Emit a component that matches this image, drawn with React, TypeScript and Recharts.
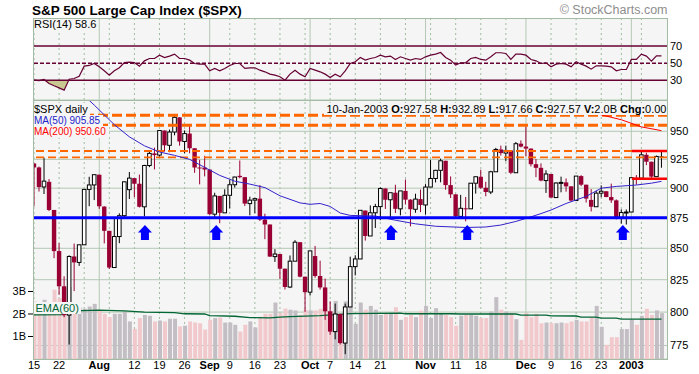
import React from "react";
import {
  Area,
  Bar,
  CartesianGrid,
  Cell,
  ComposedChart,
  Line,
  ReferenceLine,
  Scatter,
  XAxis,
  YAxis,
} from "recharts";

// daily $SPX, 15-Jul-2002 .. 10-Jan-2003 (one entry per trading day)
const priorClose = 921.39;
const opens = [
  921.39, 917.93, 901.05, 905.45, 881.56, 847.76, 819.85, 797.71, 843.42, 838.68,
  852.84, 898.96, 902.78, 911.62, 884.4, 864.24, 834.6, 859.57, 876.77, 898.73,
  908.64, 903.8, 884.21, 919.62, 930.25, 928.77, 950.7, 937.43, 949.36, 962.7,
  940.86, 947.95, 934.82, 917.87, 917.8, 916.07, 878.02, 893.4, 879.15, 893.92,
  902.96, 910.63, 909.45, 886.91, 889.81, 891.1, 873.52, 869.46, 843.32, 845.39,
  833.7, 819.27, 839.66, 854.95, 827.37, 815.28, 843.77, 827.91, 818.95, 800.58,
  785.28, 798.55, 776.76, 803.92, 835.32, 841.44, 881.04, 860.02, 879.2, 884.39,
  899.72, 890.16, 896.14, 882.5, 897.65, 890.23, 882.15, 890.71, 885.76, 900.96,
  908.35, 915.39, 923.76, 902.65, 894.74, 876.19, 882.95, 882.53, 904.27, 909.83,
  900.36, 896.74, 914.15, 933.76, 930.55, 932.87, 913.31, 938.87, 936.31, 934.53,
  920.75, 917.58, 906.55, 912.23, 892.0, 904.45, 904.96, 901.58, 889.48, 910.4,
  902.99, 890.02, 884.25, 895.74, 897.38, 892.47, 889.66, 875.4, 879.39, 879.82,
  909.03, 908.59, 929.01, 922.93, 909.93, 927.58,
];
const highs = [
  921.39, 918.65, 926.52, 907.8, 881.56, 854.13, 827.69, 844.32, 853.83, 852.85,
  898.96, 909.81, 911.64, 911.62, 884.72, 864.24, 874.44, 878.74, 905.84, 913.95,
  908.64, 911.71, 920.21, 933.29, 935.38, 951.17, 950.7, 951.59, 965.0, 962.7,
  950.8, 955.82, 934.82, 924.59, 928.15, 916.07, 896.1, 893.4, 899.07, 907.34,
  909.89, 924.02, 909.45, 892.75, 891.84, 902.68, 878.45, 869.46, 849.32, 845.39,
  833.7, 844.22, 856.6, 854.95, 827.37, 847.93, 851.93, 840.02, 825.9, 808.21,
  806.51, 798.55, 806.51, 843.27, 844.39, 881.27, 881.04, 885.35, 886.68, 900.69,
  899.72, 896.14, 902.94, 897.71, 907.44, 890.64, 895.28, 898.83, 903.42, 924.58,
  915.83, 925.66, 923.76, 910.11, 894.74, 894.3, 892.51, 904.27, 910.21, 915.91,
  905.45, 915.01, 935.13, 937.15, 937.15, 932.87, 940.41, 941.82, 954.28, 934.53,
  925.25, 921.49, 915.48, 912.23, 904.95, 909.94, 908.37, 901.58, 910.42, 911.22,
  902.99, 899.19, 897.79, 902.43, 897.38, 903.89, 890.46, 882.1, 881.93, 909.03,
  911.25, 931.77, 930.81, 922.93, 928.31, 932.89,
];
const lows = [
  884.6, 897.13, 895.03, 880.6, 842.07, 813.26, 796.13, 775.68, 816.11, 835.92,
  852.84, 884.7, 889.88, 882.48, 853.95, 833.44, 834.6, 854.15, 875.17, 890.77,
  892.38, 883.62, 876.2, 918.17, 916.21, 927.21, 931.86, 931.32, 946.43, 937.17,
  930.42, 930.36, 913.21, 903.33, 910.17, 877.51, 875.73, 870.5, 879.15, 882.92,
  900.5, 908.47, 884.84, 877.05, 878.91, 872.38, 857.39, 843.09, 839.09, 825.76,
  817.38, 818.46, 839.66, 826.84, 800.2, 812.82, 826.5, 817.25, 794.1, 782.96,
  779.51, 775.8, 768.63, 803.92, 828.37, 841.44, 856.28, 860.02, 866.58, 873.06,
  882.4, 873.82, 879.0, 877.03, 886.15, 867.91, 879.19, 879.75, 877.71, 900.96,
  904.91, 905.0, 898.68, 891.62, 874.63, 876.19, 872.05, 882.53, 895.35, 899.48,
  893.09, 894.93, 914.15, 928.41, 923.31, 912.1, 913.31, 935.58, 927.72, 918.73,
  909.51, 905.9, 895.96, 891.97, 892.0, 896.48, 897.0, 888.48, 889.48, 901.74,
  887.82, 880.32, 884.25, 892.26, 892.29, 887.48, 873.62, 870.23, 869.45, 879.82,
  903.07, 908.59, 919.93, 908.32, 909.93, 917.66,
];
const closes = [
  917.93, 900.94, 906.04, 881.56, 847.75, 819.85, 797.7, 843.43, 838.68, 852.84,
  898.96, 902.78, 911.62, 884.66, 864.24, 834.6, 859.57, 876.77, 905.46, 908.64,
  903.8, 884.21, 919.62, 930.25, 928.77, 950.7, 937.43, 949.36, 962.7, 940.86,
  947.95, 934.82, 917.87, 917.8, 916.07, 878.02, 893.4, 879.15, 893.92, 902.96,
  909.58, 909.45, 886.91, 889.81, 891.1, 873.52, 869.46, 843.32, 845.39, 833.7,
  819.29, 839.66, 854.95, 827.37, 815.28, 847.91, 827.91, 818.95, 800.58, 785.28,
  798.55, 776.76, 803.92, 835.32, 841.44, 881.27, 860.02, 879.2, 884.39, 899.72,
  890.16, 896.14, 882.5, 897.65, 890.23, 882.15, 890.71, 885.76, 900.96, 908.35,
  915.39, 923.76, 902.65, 894.74, 876.19, 882.95, 882.53, 904.27, 909.83, 900.36,
  896.74, 914.15, 933.76, 930.55, 932.87, 913.31, 938.87, 936.31, 934.53, 920.75,
  917.58, 906.55, 912.23, 892.0, 904.45, 904.96, 901.58, 889.48, 910.4, 902.99,
  891.12, 884.25, 895.76, 897.38, 892.47, 889.66, 875.4, 879.39, 879.82, 909.03,
  908.59, 929.01, 922.93, 909.93, 927.57, 927.57,
];
// volume in billions
const volumes = [
  2.56, 2.2, 2.63, 2.11, 3.08, 2.7, 3.15, 3.2, 2.1, 2.29,
  2.23, 2.33, 2.45, 2.16, 2.01, 1.86, 2.01, 2.01, 2.11, 1.67,
  1.34, 1.82, 1.96, 1.92, 1.67, 1.71, 1.67, 1.79, 1.79, 1.45,
  1.48, 1.67, 1.62, 1.59, 1.31, 1.74, 1.82, 1.84, 1.62, 1.62,
  1.52, 1.22, 1.52, 1.67, 1.4, 1.88, 2.01, 2.01, 2.51, 2.04,
  2.24, 2.19, 2.16, 1.96, 2.19, 2.16, 2.16, 2.23, 2.19, 2.15,
  2.58, 2.04, 2.56, 2.33, 1.56, 2.51, 2.19, 2.36, 2.19, 1.96,
  2.01, 2.04, 2.3, 1.74, 1.86, 1.96, 1.86, 2.15, 2.36, 1.82,
  2.26, 2.0, 1.96, 1.86, 1.48, 1.92, 1.96, 1.96, 1.92, 1.82,
  1.82, 2.11, 2.75, 2.19, 2.11, 2.04, 1.77, 0.85, 2.04, 1.86,
  2.01, 1.59, 1.62, 1.59, 1.59, 1.62, 1.59, 1.67, 1.74, 1.67,
  1.67, 1.86, 2.36, 1.43, 0.63, 0.97, 0.97, 1.33, 1.33, 1.74,
  1.52, 1.92, 2.23, 1.96, 2.16, 2.04,
];
const rsi14 = [
  30.2, 29.6, 31.0, 26.3, 23.6, 21.2, 18.5, 31.3, 32.1, 34.8,
  46.5, 47.3, 49.6, 45.7, 41.1, 36.0, 41.1, 44.6, 50.8, 51.2,
  50.8, 46.5, 52.7, 55.4, 55.4, 59.3, 56.6, 58.2, 60.5, 55.4,
  55.4, 53.5, 49.6, 48.8, 48.8, 41.1, 43.8, 41.1, 43.8, 47.3,
  49.6, 49.6, 43.8, 44.6, 44.6, 41.8, 39.9, 37.2, 36.0, 34.1,
  30.2, 37.2, 41.8, 37.2, 34.1, 43.8, 41.8, 39.9, 37.2, 33.3,
  37.2, 34.1, 41.1, 49.6, 51.6, 56.6, 53.5, 55.4, 56.6, 59.3,
  57.4, 58.2, 54.3, 57.4, 55.4, 53.5, 55.4, 54.3, 57.4, 59.3,
  60.5, 62.4, 56.6, 53.5, 47.7, 50.4, 50.4, 55.4, 56.6, 54.3,
  53.5, 57.4, 62.1, 62.1, 61.3, 54.3, 60.5, 60.5, 59.3, 54.3,
  52.7, 49.6, 50.4, 45.7, 48.8, 49.6, 48.8, 45.7, 51.6, 48.8,
  46.5, 43.0, 46.9, 46.9, 46.5, 45.7, 41.1, 42.6, 42.6, 54.3,
  54.3, 60.5, 58.2, 52.3, 58.6, 58.6,
];
// moving averages: [day index, value]
const ma50 = [
  [9, 987], [12, 974], [16, 956], [19, 945], [22, 937], [25, 931.5], [28, 928.5],
  [31, 925], [34, 918], [37, 911], [40, 906], [43, 903.5], [46, 900.5], [49, 893.5],
  [53, 887.5], [55, 886.3], [57, 887], [59, 884.5], [61, 879], [63, 877], [68, 876.5],
  [72, 873], [76, 870], [80, 868], [86, 867], [90, 867.4], [93, 869], [96, 872],
  [98, 874.5], [101, 878.5], [103, 881.5], [106, 887], [108, 890], [110, 893],
  [113, 900], [116, 901.5], [120, 902.7], [123, 904.3], [125, 905.85],
];
const ma200 = [[110, 968.5], [113, 965], [117, 960.5], [121, 954], [125, 950.6]];
const volEma60 = [
  [0, 1.96], [6, 1.97], [8, 2.14], [13, 2.17], [18, 2.14], [22, 2.08], [28, 2.06],
  [30, 2.01], [34, 2.0], [35, 1.93], [40, 1.9], [43, 1.84], [47, 1.83], [49, 1.86],
  [51, 1.88], [57, 1.93], [63, 2.02], [73, 2.04], [74, 2.01], [83, 2.01], [85, 2.0],
  [96, 2.0], [97, 1.95], [102, 1.95], [103, 1.92], [108, 1.91], [109, 1.86],
  [112, 1.86], [113, 1.82], [116, 1.82], [117, 1.77], [125, 1.77],
];

const tickIdx = [0, 5, 13, 20, 25, 30, 35, 39, 44, 49, 55, 59, 64, 69, 78, 84, 89, 98, 103, 108, 113, 119];
const tickText = ["15", "22", "Aug", "12", "19", "26", "Sep", "9", "16", "23", "Oct", "7", "14", "21", "Nov", "11", "18", "Dec", "9", "16", "23", "2003"];
const monthIdx = [13, 35, 55, 78, 98, 119];
const weekIdx = [0, 5, 10, 15, 20, 25, 30, 39, 44, 49, 54, 59, 64, 69, 74, 79, 84, 89, 94, 103, 108, 113, 117, 121];
const priceTicks = [775, 800, 825, 850, 875, 900, 925, 950];
const volTicks = [1, 2, 3];
const rsiTicks = [30, 50, 70];

// annotations
const supportLevel = 875;
const thickDashLevels = [964.5, 955.5];
const thinDashLevels = [932.4, 926.8];
const channelLevels = [932.4, 908.2];
const channelFrom = 119.1;
const arrowIdx = [22.1, 36.3, 71.1, 86.3, 117.3];
const arrowTip = 869;

const X_DOMAIN = [-0.2, 126.3];
const PANEL = "#f5f5f5";
const GRID = "#b4c8b4";
const FRAME = "#a3bba3";
const RED = "#990033";
const MAROON = "#660033";
const FONT = '"Liberation Sans", Arial, Helvetica, sans-serif';

const days = opens.map((o, i) => {
  const c = closes[i];
  const prev = i === 0 ? priorClose : closes[i - 1];
  return {
    i,
    o,
    h: highs[i],
    l: lows[i],
    c,
    range: [lows[i], highs[i]],
    vol: volumes[i],
    up: c >= prev,
    rsi: rsi14[i],
    rsiLow: [Math.min(rsi14[i], 30), 30],
  };
});
const ma50Rows = ma50.map(([i, v]) => ({ i, v }));
const ma200Rows = ma200.map(([i, v]) => ({ i, v }));
const emaRows = volEma60.map(([i, v]) => ({ i, v }));
const arrowRows = arrowIdx.map((i) => ({ i, p: arrowTip }));
const channelRows = channelLevels.map((v) => [
  { i: channelFrom, v },
  { i: X_DOMAIN[1], v },
]);

function Candle(props: any) {
  const { x, y, width, height, payload } = props;
  if (x == null || !payload) return null;
  const { o, h, l, c, up } = payload;
  const span = Math.log(h) - Math.log(l);
  const py = (v: number) => (span > 0 ? y + ((Math.log(h) - Math.log(v)) / span) * height : y);
  const cx = x + width / 2;
  const color = up ? "#000" : RED;
  const top = py(Math.max(o, c));
  const bh = Math.max(py(Math.min(o, c)) - top, 1);
  if (c < o) {
    return (
      <g>
        <line x1={cx} x2={cx} y1={y} y2={y + height} stroke={color} strokeWidth={1} />
        <rect x={cx - 2.2} y={top} width={4.4} height={bh} fill={color} />
      </g>
    );
  }
  return (
    <g>
      <line x1={cx} x2={cx} y1={y} y2={top} stroke={color} strokeWidth={1} />
      <line x1={cx} x2={cx} y1={top + bh} y2={y + height} stroke={color} strokeWidth={1} />
      <rect x={cx - 1.8} y={top} width={3.6} height={bh} fill="#fff" stroke={color} strokeWidth={1} />
    </g>
  );
}

function UpArrow(props: any) {
  const { cx, cy } = props;
  if (cx == null) return null;
  const d = `M${cx} ${cy} L${cx + 7} ${cy + 7.5} L${cx + 4} ${cy + 7.5} L${cx + 4} ${cy + 15} L${cx - 4} ${cy + 15} L${cx - 4} ${cy + 7.5} L${cx - 7} ${cy + 7.5} Z`;
  return <path d={d} fill="#0000ff" />;
}

function DayTick(props: any) {
  const { x, y, payload } = props;
  const label = tickText[tickIdx.indexOf(payload.value)];
  const bold = !/^\d{1,2}$/.test(label);
  return (
    <text x={x} y={y} dy="0.71em" textAnchor="middle" fontSize={11} fontWeight={bold ? 700 : 400} fill="#000">
      {label}
    </text>
  );
}

function vGrid(xId: string, yId: string) {
  return [
    ...weekIdx
      .filter((i) => !monthIdx.includes(i))
      .map((i) => (
        <ReferenceLine key={`w${i}`} x={i} xAxisId={xId} yAxisId={yId} stroke="#9fbc9f" strokeDasharray="2 3" zIndex={-50} />
      )),
    ...monthIdx.map((i) => (
      <ReferenceLine key={`m${i}`} x={i} xAxisId={xId} yAxisId={yId} stroke={GRID} zIndex={-50} />
    )),
  ];
}

const abs = (s: React.CSSProperties): React.CSSProperties => ({ position: "absolute", whiteSpace: "nowrap", ...s });

export default function App() {
  const last = days[days.length - 1];
  return (
    <div style={abs({ left: 0, top: 0, width: 699, height: 374, background: "#fff", fontFamily: FONT })}>
      <div style={abs({ left: 0, top: 0 })}>
        <ComposedChart width={699} height={100} data={days} margin={{ top: 18, right: 0, bottom: 0, left: 33 }}>
          <CartesianGrid xAxisId="r" yAxisId="r" horizontal={false} vertical={false} fill={PANEL} />
          <XAxis xAxisId="r" dataKey="i" type="number" domain={X_DOMAIN} allowDataOverflow hide />
          <YAxis
            yAxisId="r"
            orientation="right"
            width={31}
            domain={[7.03, 102.65]}
            allowDataOverflow
            ticks={rsiTicks}
            axisLine={false}
            tickLine={false}
            tickSize={0}
            tickMargin={2}
            tick={{ fill: "#000", fontSize: 11 }}
          />
          {vGrid("r", "r")}
          <Area xAxisId="r" yAxisId="r" dataKey="rsiLow" fill="#c8c890" fillOpacity={1} stroke="none" isAnimationActive={false} zIndex={100} />
          {rsiTicks.map((v) => (
            <ReferenceLine key={v} y={v} xAxisId="r" yAxisId="r" stroke={MAROON} strokeWidth={1.5} strokeDasharray={v === 50 ? "4 2" : undefined} zIndex={200} />
          ))}
          <Line xAxisId="r" yAxisId="r" dataKey="rsi" stroke={MAROON} strokeWidth={1.2} dot={false} isAnimationActive={false} zIndex={300} />
        </ComposedChart>
      </div>

      <div style={abs({ left: 0, top: 0 })}>
        <ComposedChart width={699} height={374} data={days} margin={{ top: 100, right: 0, bottom: 0, left: 0 }}>
          <CartesianGrid xAxisId="p" yAxisId="price" vertical={false} stroke={GRID} fill={PANEL} />
          <XAxis
            xAxisId="p"
            dataKey="i"
            type="number"
            domain={X_DOMAIN}
            allowDataOverflow
            ticks={tickIdx}
            interval={0}
            tick={<DayTick />}
            tickLine={false}
            axisLine={false}
            tickSize={0}
            tickMargin={2}
            height={15}
          />
          <XAxis xAxisId="v" dataKey="i" type="number" domain={X_DOMAIN} allowDataOverflow hide />
          <YAxis
            yAxisId="vol"
            orientation="left"
            width={33}
            domain={[0, 11.51]}
            allowDataOverflow
            ticks={volTicks}
            tickFormatter={(v: number) => `${v}B`}
            axisLine={false}
            tickSize={5}
            tickMargin={2}
            tickLine={{ stroke: "#000" }}
            tick={{ fill: "#000", fontSize: 11 }}
          />
          <YAxis
            yAxisId="price"
            orientation="right"
            width={31}
            scale="log"
            domain={[765.1, 978.7]}
            allowDataOverflow
            ticks={priceTicks}
            axisLine={false}
            tickLine={false}
            tickSize={0}
            tickMargin={2}
            tick={{ fill: "#000", fontSize: 11 }}
          />
          {vGrid("p", "price")}
          <Bar xAxisId="v" yAxisId="vol" dataKey="vol" barSize={4} isAnimationActive={false} zIndex={100}>
            {days.map((d) => (
              <Cell key={d.i} fill={d.up ? "#c2bec3" : "#f1c9cd"} />
            ))}
          </Bar>
          <Line xAxisId="v" yAxisId="vol" data={emaRows} dataKey="v" stroke="#006633" strokeWidth={1.3} dot={false} isAnimationActive={false} zIndex={110} />
          <Bar
            xAxisId="p"
            yAxisId="price"
            dataKey="range"
            barSize={5}
            shape={(p: any) => <Candle {...p} />}
            isAnimationActive={false}
            zIndex={200}
          />
          {thickDashLevels.map((v) => (
            <ReferenceLine key={v} y={v} xAxisId="p" yAxisId="price" stroke="#ff6600" strokeWidth={3} strokeDasharray="10 4" zIndex={300} />
          ))}
          {thinDashLevels.map((v) => (
            <ReferenceLine key={v} y={v} xAxisId="p" yAxisId="price" stroke="#ff6600" strokeWidth={1.8} strokeDasharray="8 4" zIndex={300} />
          ))}
          <Line xAxisId="p" yAxisId="price" data={ma50Rows} dataKey="v" stroke="#3322cc" strokeWidth={1} dot={false} isAnimationActive={false} zIndex={310} />
          <Line xAxisId="p" yAxisId="price" data={ma200Rows} dataKey="v" stroke="#ff0000" strokeWidth={1} dot={false} isAnimationActive={false} zIndex={310} />
          <ReferenceLine y={supportLevel} xAxisId="p" yAxisId="price" stroke="#0000ff" strokeWidth={3} zIndex={320} />
          {channelRows.map((rows, k) => (
            <Line key={k} xAxisId="p" yAxisId="price" data={rows} dataKey="v" stroke="#ff0000" strokeWidth={2.5} dot={false} isAnimationActive={false} zIndex={330} />
          ))}
          <Scatter xAxisId="p" yAxisId="price" data={arrowRows} dataKey="p" shape={(p: any) => <UpArrow {...p} />} isAnimationActive={false} zIndex={340} />
        </ComposedChart>
      </div>

      {/* panel frames */}
      <div style={abs({ left: 33, top: 18, width: 635, height: 83, border: `1px solid ${FRAME}`, boxSizing: "border-box" })} />
      <div style={abs({ left: 33, top: 100, width: 635, height: 260, border: `1px solid ${FRAME}`, boxSizing: "border-box" })} />

      {/* titles and legends */}
      <div style={abs({ left: 32, top: 3.6, fontSize: 13.5, fontWeight: 700, lineHeight: "13.5px" })}>
        S&amp;P 500 Large Cap Index ($SPX)
      </div>
      <div style={abs({ right: 31.5, top: 4.4, fontSize: 12.5, lineHeight: "12.5px", color: "#8e8e8e" })}>© StockCharts.com</div>
      <div style={abs({ left: 34, top: 18.5, fontSize: 11, lineHeight: "11px", background: PANEL, paddingRight: 2 })}>
        RSI(14) {last.rsi.toFixed(1)}
      </div>
      <div style={abs({ left: 34, top: 102.6, fontSize: 11, lineHeight: "12.3px", background: PANEL, paddingRight: 2 })}>$SPX daily</div>
      <div style={abs({ left: 34, top: 115, fontSize: 10, lineHeight: "11.2px", color: "#2222cc", background: PANEL, paddingRight: 3 })}>
        MA(50) {ma50[ma50.length - 1][1].toFixed(2)}
      </div>
      <div style={abs({ left: 34, top: 126.3, fontSize: 10, lineHeight: "11.2px", color: "#ff0000", background: PANEL, paddingRight: 3 })}>
        MA(200) {ma200[ma200.length - 1][1].toFixed(2)}
      </div>
      <div style={abs({ right: 32.5, top: 102.6, fontSize: 11, lineHeight: "12.3px", background: PANEL, paddingLeft: 2 })}>
        10-Jan-2003 <b>O:</b>
        {last.o.toFixed(2)} <b>H:</b>
        {last.h.toFixed(2)} <b>L:</b>
        {last.l.toFixed(2)} <b>C:</b>
        {last.c.toFixed(2)} <b>V:</b>
        {last.vol.toFixed(1)}B <b>Chg:</b>
        {(last.c - closes[closes.length - 2]).toFixed(2)}
      </div>
      <div style={abs({ left: 33.5, top: 301.5, fontSize: 11, lineHeight: "12.3px", color: "#006633", background: PANEL, padding: "0 2px" })}>
        EMA(60)
      </div>
    </div>
  );
}
